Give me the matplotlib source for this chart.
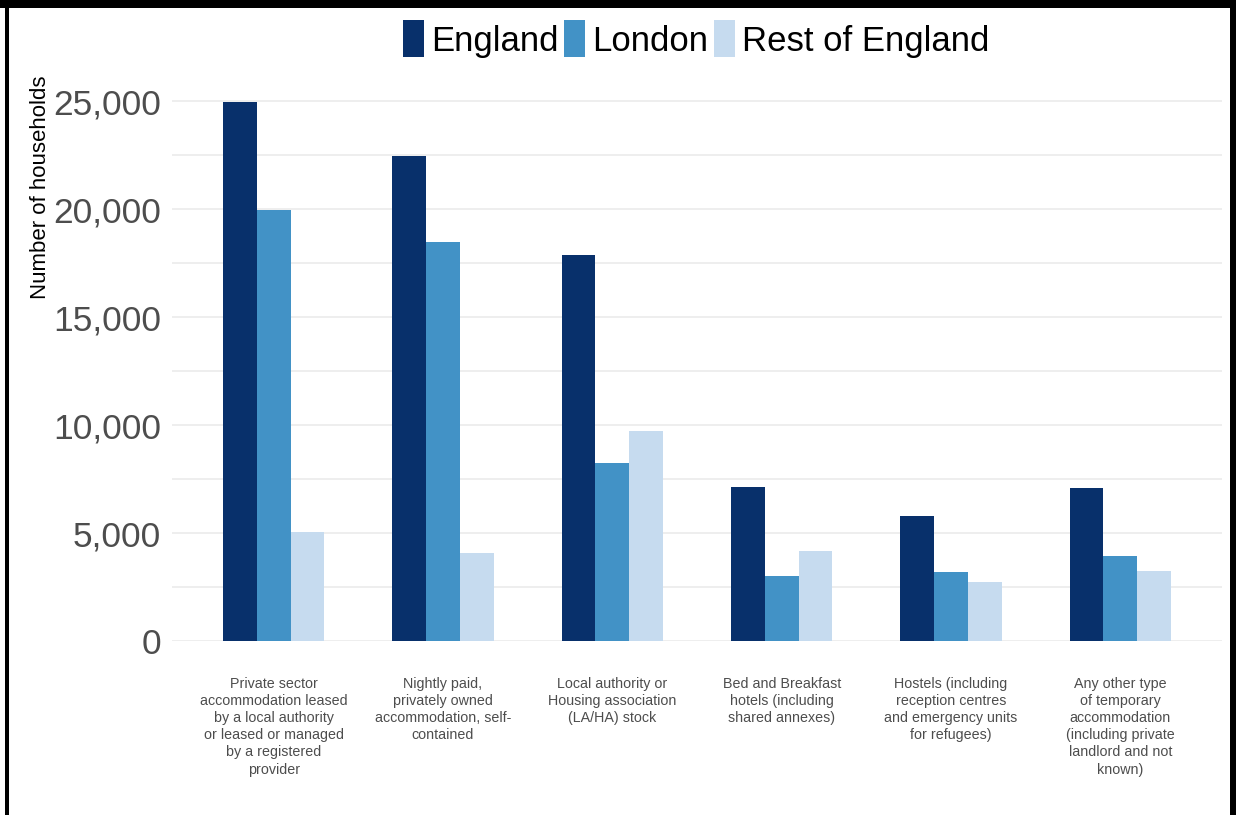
import matplotlib
matplotlib.use("Agg")
import matplotlib.pyplot as plt
from matplotlib.patches import Rectangle, Patch
import numpy as np

categories = [
    "Private sector\naccommodation leased\nby a local authority\nor leased or managed\nby a registered\nprovider",
    "Nightly paid,\nprivately owned\naccommodation, self-\ncontained",
    "Local authority or\nHousing association\n(LA/HA) stock",
    "Bed and Breakfast\nhotels (including\nshared annexes)",
    "Hostels (including\nreception centres\nand emergency units\nfor refugees)",
    "Any other type\nof temporary\naccommodation\n(including private\nlandlord and not\nknown)",
]
series_names = ["England", "London", "Rest of England"]
england = [24950, 22450, 17900, 7130, 5790, 7080]
london = [19950, 18470, 8240, 3010, 3190, 3930]
rest_of_england = [5040, 4070, 9720, 4170, 2730, 3240]
yticks = [0, 5000, 10000, 15000, 20000, 25000]
ytick_labels = ["0", "5,000", "10,000", "15,000", "20,000", "25,000"]
colors = ["#08306b", "#4292c6", "#c6dbef"]

plt.rcParams['font.family'] = ['Liberation Sans', 'DejaVu Sans']

fig = plt.figure(figsize=(12.36, 8.15), dpi=100)
W, H = 1236, 815
ax = fig.add_axes([172 / W, 1 - 641 / H, (1222 - 172) / W, (641 - 84) / H])

x = np.arange(len(categories))
bw = 0.2
for i, (vals, c, name) in enumerate(zip([england, london, rest_of_england], colors, series_names)):
    ax.bar(x + (i - 1) * bw, vals, width=bw, color=c, label=name, zorder=3)

ax.set_xlim(-0.6, len(categories) - 0.4)
ax.set_ylim(0, 25800)
ax.set_yticks(yticks)
ax.set_yticklabels(ytick_labels, fontsize=25.5, color="#4d4d4d")
ax.set_yticks(np.arange(2500, 25001, 5000), minor=True)
ax.grid(axis="y", which="both", color="#ebebeb", linewidth=1.2, zorder=0)
ax.set_xticks(x)
ax.set_xticklabels(categories, fontsize=10.3, color="#4d4d4d", linespacing=1.28, va="top")
ax.tick_params(axis="both", which="both", length=0)
ax.tick_params(axis="x", pad=26)
ax.tick_params(axis="y", pad=8)
for s in ax.spines.values():
    s.set_visible(False)
ax.set_ylabel("Number of households", fontsize=16, color="black")
ax.yaxis.set_label_coords(-0.115, 0.815)

handles = [Patch(facecolor=c, edgecolor="none") for c in colors]
fig.legend(handles, series_names, loc="center", bbox_to_anchor=(696 / W, 1 - 39 / H),
           ncol=3, frameon=False, fontsize=25, handlelength=0.62, handleheight=1.25,
           handletextpad=0.2, columnspacing=0.15, borderpad=0)

# frame of the original screenshot
fig.patches.append(Rectangle((0, 1 - 8 / H), 1, 8 / H, transform=fig.transFigure,
                             facecolor="black", edgecolor="none"))
fig.patches.append(Rectangle((5 / W, 0), 4 / W, 1, transform=fig.transFigure,
                             facecolor="black", edgecolor="none"))
fig.patches.append(Rectangle((1230 / W, 0), 6 / W, 1, transform=fig.transFigure,
                             facecolor="black", edgecolor="none"))

fig.savefig("out.png", dpi=100, facecolor="white")
